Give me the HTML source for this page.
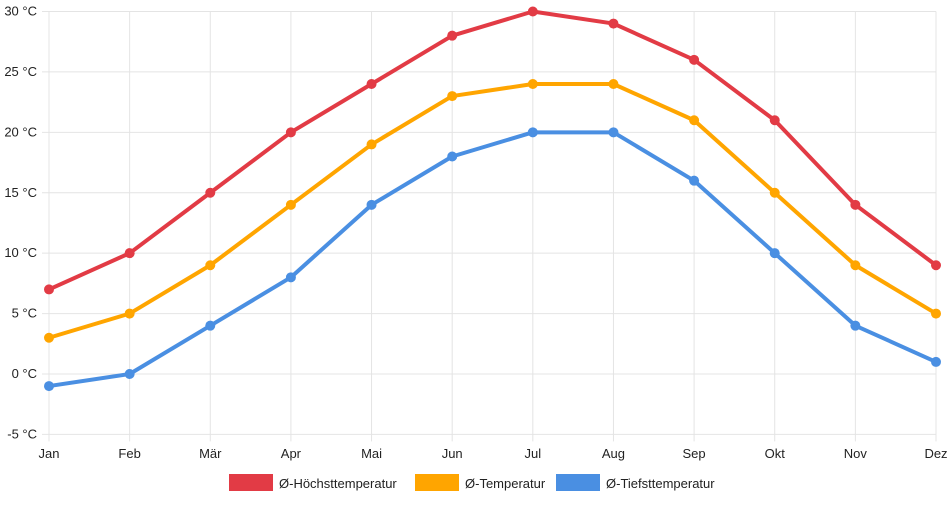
<!DOCTYPE html>
<html><head><meta charset="utf-8"><style>
body{margin:0;background:#fff;font-family:"Liberation Sans",Arial,sans-serif}
svg text{font-family:"Liberation Sans",Arial,sans-serif;font-size:13px;fill:#222}
</style></head><body>
<svg id="c" width="952" height="500"></svg>
<script>
const months=["Jan","Feb","Mär","Apr","Mai","Jun","Jul","Aug","Sep","Okt","Nov","Dez"];
const maxTemp=[7,10,15,20,24,28,30,29,26,21,14,9];
const avgTemp=[3,5,9,14,19,23,24,24,21,15,9,5];
const minTemp=[-1,0,4,8,14,18,20,20,16,10,4,1];
const yTicks=[-5,0,5,10,15,20,25,30];
const seriesNames=["Ø-Höchsttemperatur","Ø-Temperatur","Ø-Tiefsttemperatur"];
const colors=["#e23b45","#ffa500","#4a8fe2"];
const NS="http://www.w3.org/2000/svg";
const svg=document.getElementById('c');
const x=i=>49+i*(887/11);
const y=v=>374-v*(362.5/30);
function mk(t,a){const e=document.createElementNS(NS,t);for(const k in a)e.setAttribute(k,a[k]);svg.appendChild(e);return e;}
yTicks.forEach(t=>{
  const g=mk('line',{x1:42,x2:936,y1:y(t),y2:y(t),stroke:'#e4e4e4','stroke-width':1});
  
  
  const tx=mk('text',{x:37,y:y(t)+4,'text-anchor':'end'});tx.textContent=t+' °C';
  
  
});
months.forEach((m,i)=>{
  const g=mk('line',{x1:x(i),x2:x(i),y1:y(30),y2:y(-5)+7,stroke:'#e4e4e4','stroke-width':1});
  
  
  const tx=mk('text',{x:x(i),y:458,'text-anchor':'middle'});tx.textContent=m;
  
  
});
[maxTemp,avgTemp,minTemp].forEach((s,k)=>{
  const p=mk('polyline',{points:s.map((v,i)=>x(i)+','+y(v)).join(' '),fill:'none',stroke:colors[k],'stroke-width':4,'stroke-linejoin':'round'});
  
  
  s.forEach((v,i)=>{
    const c=mk('circle',{cx:x(i),cy:y(v),r:5,fill:colors[k]});
    
    
  });
});
const lx=[229,415,556];
seriesNames.forEach((n,k)=>{
  const r=mk('rect',{x:lx[k],y:474,width:44,height:17,fill:colors[k]});
  
  
  const t=mk('text',{x:lx[k]+50,y:488});t.textContent=n;
  
  
});
</script>
</body></html>
